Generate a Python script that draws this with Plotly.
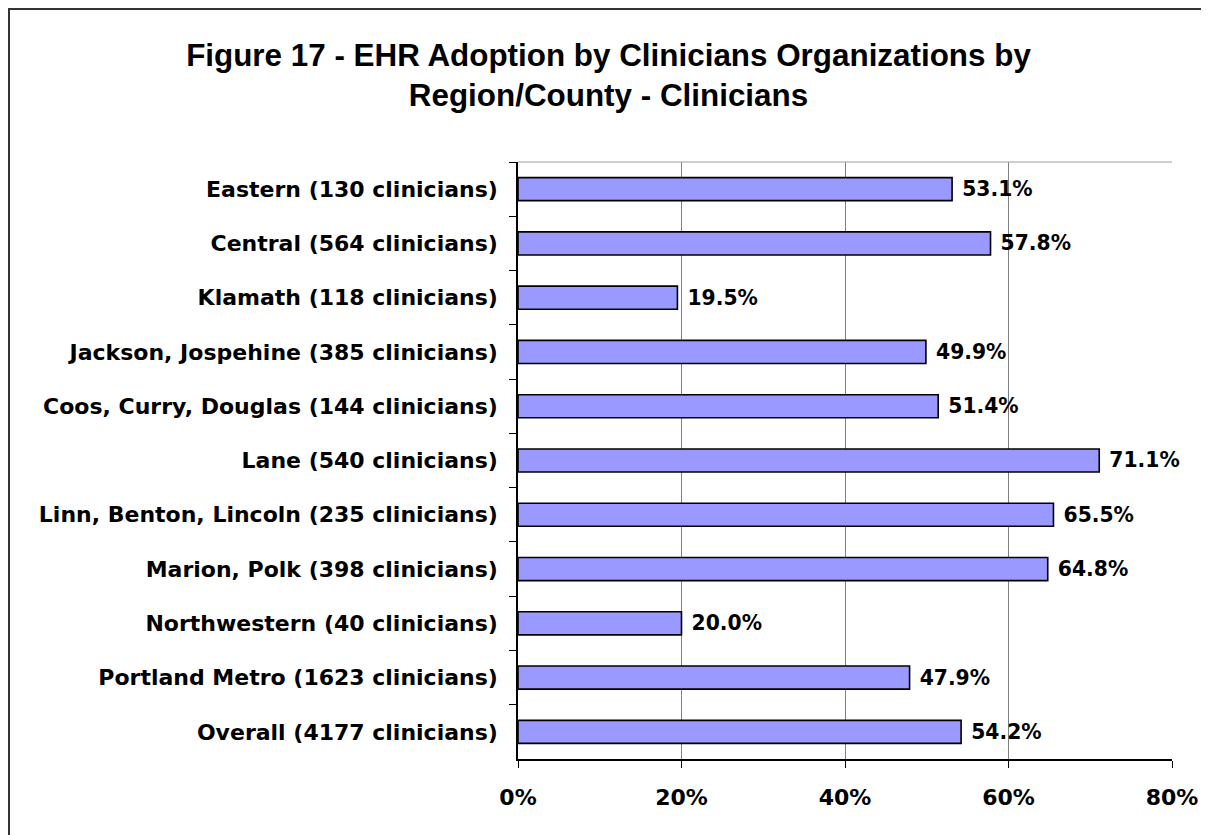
import plotly.graph_objects as go

categories = [
    "Eastern (130 clinicians)",
    "Central (564 clinicians)",
    "Klamath (118 clinicians)",
    "Jackson, Jospehine (385 clinicians)",
    "Coos, Curry, Douglas (144 clinicians)",
    "Lane (540 clinicians)",
    "Linn, Benton, Lincoln (235 clinicians)",
    "Marion, Polk (398 clinicians)",
    "Northwestern (40 clinicians)",
    "Portland Metro (1623 clinicians)",
    "Overall (4177 clinicians)",
]
adoption_pct = [53.1, 57.8, 19.5, 49.9, 51.4, 71.1, 65.5, 64.8, 20.0, 47.9, 54.2]
x_ticks = [0, 20, 40, 60, 80]
x_tick_labels = ["0%", "20%", "40%", "60%", "80%"]
title_text = "Figure 17 - EHR Adoption by Clinicians Organizations by<br>Region/County - Clinicians"

# figure sits at page offset (8, 8) because of the default body margin
W, H = 1201, 827
L, R, T, B = 510, 1164, 154, 751

LABEL_FONT = "DejaVu Sans, Verdana, sans-serif"
TITLE_FONT = "Liberation Sans, Arial, sans-serif"

fig = go.Figure()
fig.add_trace(go.Bar(
    x=adoption_pct,
    y=categories,
    orientation="h",
    marker=dict(color="#9999FF", line=dict(color="black", width=1.6)),
    texttemplate=" %{x:.1f}%",
    textposition="outside",
    textfont=dict(family=LABEL_FONT, size=22, color="black", weight="bold"),
    cliponaxis=False,
    hoverinfo="skip",
))

pw = R - L
ph = B - T
def px2paper_x(px):
    return (px - L) / pw
def py2paper_y(py):
    return 1 - (py - T) / ph

fig.update_layout(
    width=W, height=H,
    margin=dict(l=L, r=W - R, t=T, b=H - B, pad=0),
    paper_bgcolor="white",
    plot_bgcolor="white",
    showlegend=False,
    bargap=0.575,
    font=dict(family=LABEL_FONT, size=22, color="black"),
    title=dict(
        text="<b>" + title_text + "</b>",
        x=600.5 / W, xanchor="center", xref="container",
        y=1 - 57.5 / H, yanchor="middle", yref="container",
        font=dict(family=TITLE_FONT, size=31.4, color="black"),
    ),
    xaxis=dict(
        range=[0, 80],
        tickvals=x_ticks,
        ticktext=x_tick_labels,
        showgrid=True, gridcolor="#808080", gridwidth=1,
        showline=True, linecolor="black", linewidth=1.5,
        ticks="outside", ticklen=7, tickcolor="black",
        tickfont=dict(family=LABEL_FONT, size=22, weight="bold"),
        ticklabelstandoff=11,
        zeroline=False,
        fixedrange=True,
    ),
    yaxis=dict(
        autorange="reversed",
        showline=True, linecolor="black", linewidth=1.5,
        ticks="outside", ticklen=7, tickcolor="black",
        tickson="boundaries",
        showgrid=False,
        tickfont=dict(family=LABEL_FONT, size=22, weight="bold"),
        ticklabelstandoff=14,
        fixedrange=True,
    ),
    shapes=[
        # plot area top border (light grey)
        dict(type="line", xref="paper", yref="paper", x0=0, x1=1, y0=1, y1=1,
             line=dict(color="#A0A0A0", width=1)),
        # outer chart border
        dict(type="rect", xref="paper", yref="paper",
             x0=px2paper_x(1), x1=px2paper_x(1230),
             y0=py2paper_y(860), y1=py2paper_y(1),
             line=dict(color="#333333", width=2), fillcolor="rgba(0,0,0,0)", layer="above"),
    ],
)

fig.write_html("out.html")
